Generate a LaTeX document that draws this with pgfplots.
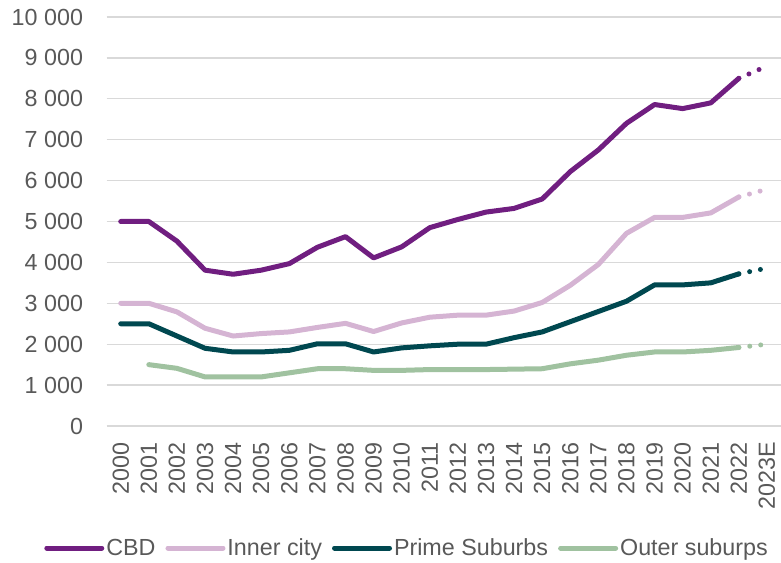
\documentclass[border=0pt]{standalone}
\usepackage{fontspec}
\setmainfont{Liberation Sans}
\usepackage{pgfplots}
\pgfplotsset{compat=1.18}

\definecolor{cbd}{RGB}{112,30,128}
\definecolor{inner}{RGB}{213,180,211}
\definecolor{prime}{RGB}{0,72,80}
\definecolor{outer}{RGB}{160,194,160}
\definecolor{txt}{RGB}{89,89,89}
\definecolor{grid}{RGB}{217,217,217}

\newcommand{\lbl}{\fontsize{23.3}{28}\selectfont}

\begin{document}
\begin{tikzpicture}
\useasboundingbox (-106.7pt,-136pt) rectangle (674.3pt,426pt);
\begin{axis}[
  at={(0,0)}, anchor=south west,
  scale only axis,
  width=674.3pt, height=409pt,
  xmin=-0.5, xmax=23.5,
  ymin=0, ymax=10000,
  clip=false,
  scaled y ticks=false,
  axis line style={draw=none},
  major tick length=0pt,
  ymajorgrids,
  y grid style={grid, line width=1.3pt},
  ytick={0,1000,...,10000},
  yticklabels={0,{1 000},{2 000},{3 000},{4 000},{5 000},{6 000},{7 000},{8 000},{9 000},{10 000}},
  xtick={0,...,23},
  xticklabels={2000,2001,2002,2003,2004,2005,2006,2007,2008,2009,2010,2011,2012,2013,2014,2015,2016,2017,2018,2019,2020,2021,2022,2023E},
  ticklabel style={font=\lbl, text=txt, inner sep=0pt},
  yticklabel style={anchor=east, xshift=-23.5pt},
  xticklabel style={rotate=90, anchor=east, xshift=-16pt},
  every axis plot/.append style={line width=5pt, line cap=round, line join=round},
  legend columns=4,
  legend image code/.code={\draw[#1] (0pt,0pt) -- (55pt,0pt);},
  legend style={
    at={(axis description cs:0.4454,-0.2983)}, anchor=center,
    draw=none, fill=none, inner sep=0pt,
    font=\lbl, text=txt,
    nodes={inner sep=2pt},
    /tikz/every even column/.append style={column sep=8pt},
  },
]

% CBD
\addplot[cbd] coordinates {
(0,5000) (1,5000) (2,4520) (3,3810) (4,3710) (5,3810) (6,3970) (7,4370)
(8,4630) (9,4110) (10,4380) (11,4850) (12,5050) (13,5230) (14,5320)
(15,5550) (16,6220) (17,6750) (18,7400) (19,7860) (20,7760) (21,7900) (22,8500)
};
\addlegendentry{CBD}
% Inner city
\addplot[inner] coordinates {
(0,3000) (1,3000) (2,2790) (3,2390) (4,2200) (5,2260) (6,2300) (7,2410)
(8,2510) (9,2310) (10,2520) (11,2660) (12,2710) (13,2710) (14,2810)
(15,3020) (16,3440) (17,3950) (18,4710) (19,5100) (20,5100) (21,5210) (22,5600)
};
\addlegendentry{Inner city}
% Prime suburbs
\addplot[prime] coordinates {
(0,2500) (1,2500) (2,2200) (3,1900) (4,1810) (5,1810) (6,1850) (7,2010)
(8,2010) (9,1810) (10,1910) (11,1960) (12,2000) (13,2000) (14,2160)
(15,2300) (16,2550) (17,2800) (18,3050) (19,3450) (20,3450) (21,3500) (22,3720)
};
\addlegendentry{Prime Suburbs}
% Outer suburbs
\addplot[outer] coordinates {
(1,1500) (2,1410) (3,1200) (4,1200) (5,1200) (6,1300) (7,1400)
(8,1400) (9,1360) (10,1360) (11,1380) (12,1380) (13,1380) (14,1390)
(15,1400) (16,1520) (17,1610) (18,1730) (19,1810) (20,1810) (21,1850) (22,1920)
};
\addlegendentry{Outer suburps}

% 2023E estimates (dotted)
\addplot[cbd, forget plot, dash pattern=on 0pt off 11pt] coordinates {(22,8500) (23,8800)};
\addplot[inner, forget plot, dash pattern=on 0pt off 11pt] coordinates {(22,5600) (23,5790)};
\addplot[prime, forget plot, dash pattern=on 0pt off 11pt] coordinates {(22,3720) (23,3860)};
\addplot[outer, forget plot, dash pattern=on 0pt off 11pt] coordinates {(22,1920) (23,2000)};
\end{axis}
\end{tikzpicture}
\end{document}
